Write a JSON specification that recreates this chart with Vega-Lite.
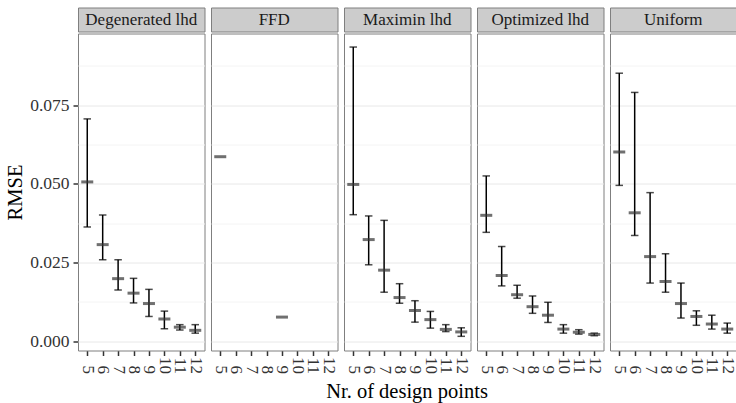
{
  "$schema": "https://vega.github.io/schema/vega-lite/v6.json",
  "padding": {"left": 5, "top": 6.5, "right": 0, "bottom": 0},
  "datasets": {
    "rmse": [
      {"design": "Degenerated lhd", "n": 5, "median": 0.0506, "lower": 0.0363, "upper": 0.0706},
      {"design": "Degenerated lhd", "n": 6, "median": 0.0307, "lower": 0.0259, "upper": 0.0401},
      {"design": "Degenerated lhd", "n": 7, "median": 0.0199, "lower": 0.0163, "upper": 0.0259},
      {"design": "Degenerated lhd", "n": 8, "median": 0.0153, "lower": 0.0122, "upper": 0.0200},
      {"design": "Degenerated lhd", "n": 9, "median": 0.0120, "lower": 0.0079, "upper": 0.0165},
      {"design": "Degenerated lhd", "n": 10, "median": 0.0071, "lower": 0.0040, "upper": 0.0096},
      {"design": "Degenerated lhd", "n": 11, "median": 0.0045, "lower": 0.0036, "upper": 0.0053},
      {"design": "Degenerated lhd", "n": 12, "median": 0.0035, "lower": 0.0026, "upper": 0.0053},
      {"design": "FFD", "n": 5, "median": 0.0586, "lower": null, "upper": null},
      {"design": "FFD", "n": 9, "median": 0.0077, "lower": null, "upper": null},
      {"design": "Maximin lhd", "n": 5, "median": 0.0498, "lower": 0.0402, "upper": 0.0934},
      {"design": "Maximin lhd", "n": 6, "median": 0.0323, "lower": 0.0243, "upper": 0.0398},
      {"design": "Maximin lhd", "n": 7, "median": 0.0226, "lower": 0.0156, "upper": 0.0384},
      {"design": "Maximin lhd", "n": 8, "median": 0.0139, "lower": 0.0121, "upper": 0.0183},
      {"design": "Maximin lhd", "n": 9, "median": 0.0098, "lower": 0.0061, "upper": 0.0129},
      {"design": "Maximin lhd", "n": 10, "median": 0.0069, "lower": 0.0042, "upper": 0.0095},
      {"design": "Maximin lhd", "n": 11, "median": 0.0038, "lower": 0.0031, "upper": 0.0053},
      {"design": "Maximin lhd", "n": 12, "median": 0.0030, "lower": 0.0016, "upper": 0.0043},
      {"design": "Optimized lhd", "n": 5, "median": 0.0400, "lower": 0.0346, "upper": 0.0525},
      {"design": "Optimized lhd", "n": 6, "median": 0.0209, "lower": 0.0176, "upper": 0.0301},
      {"design": "Optimized lhd", "n": 7, "median": 0.0148, "lower": 0.0137, "upper": 0.0178},
      {"design": "Optimized lhd", "n": 8, "median": 0.0110, "lower": 0.0089, "upper": 0.0144},
      {"design": "Optimized lhd", "n": 9, "median": 0.0083, "lower": 0.0060, "upper": 0.0124},
      {"design": "Optimized lhd", "n": 10, "median": 0.0039, "lower": 0.0026, "upper": 0.0053},
      {"design": "Optimized lhd", "n": 11, "median": 0.0029, "lower": 0.0023, "upper": 0.0037},
      {"design": "Optimized lhd", "n": 12, "median": 0.0022, "lower": 0.0018, "upper": 0.0026},
      {"design": "Uniform", "n": 5, "median": 0.0601, "lower": 0.0495, "upper": 0.0851},
      {"design": "Uniform", "n": 6, "median": 0.0408, "lower": 0.0336, "upper": 0.0790},
      {"design": "Uniform", "n": 7, "median": 0.0269, "lower": 0.0185, "upper": 0.0472},
      {"design": "Uniform", "n": 8, "median": 0.0190, "lower": 0.0156, "upper": 0.0278},
      {"design": "Uniform", "n": 9, "median": 0.0120, "lower": 0.0074, "upper": 0.0185},
      {"design": "Uniform", "n": 10, "median": 0.0079, "lower": 0.0051, "upper": 0.0097},
      {"design": "Uniform", "n": 11, "median": 0.0055, "lower": 0.0039, "upper": 0.0083},
      {"design": "Uniform", "n": 12, "median": 0.0039, "lower": 0.0026, "upper": 0.0058}
    ]
  },
  "vconcat": [
    {
      "data": {"name": "rmse"},
      "transform": [{"aggregate": [{"op": "count", "as": "cnt"}], "groupby": ["design"]}],
      "facet": {"column": {"field": "design", "type": "nominal", "title": null, "header": {"labels": false, "title": null}}},
      "spacing": 6,
      "bounds": "flush",
      "spec": {
        "width": 126.5,
        "height": 24,
        "view": {"fill": "#cccccc", "stroke": "#7f7f7f"},
        "mark": {"type": "text", "font": "Liberation Serif", "fontSize": 17, "color": "#1a1a1a", "baseline": "middle", "align": "center"},
        "encoding": {"text": {"field": "design", "type": "nominal"}}
      }
    },
    {
      "data": {"name": "rmse"},
      "facet": {"column": {"field": "design", "type": "nominal", "title": "Nr. of design points", "header": {"labels": false, "labelPadding": 0, "titleOrient": "bottom", "titleFont": "Liberation Serif", "titleFontSize": 20.5, "titleFontWeight": "normal", "titleColor": "#000000", "titlePadding": -2}}},
      "spacing": 6,
      "bounds": "flush",
      "spec": {
        "width": 126.5,
        "height": 317,
        "encoding": {
          "x": {
            "field": "n", "type": "ordinal", "title": null,
            "scale": {"type": "point", "padding": 0.6},
            "axis": {"labelAngle": 90, "labelAlign": "right", "labelBaseline": "middle", "labelPadding": 18, "labelFlush": false, "labelFontSize": 17}
          }
        },
        "layer": [
          {
            "transform": [{"filter": "datum.lower != null"}],
            "mark": {"type": "rule", "color": "#000000", "strokeWidth": 1.5},
            "encoding": {
              "y": {
                "field": "lower", "type": "quantitative", "title": "RMSE",
                "scale": {"domain": [-0.0029, 0.0977], "nice": false, "zero": false},
                "axis": {
                  "values": [0, 0.0125, 0.025, 0.0375, 0.05, 0.0625, 0.075, 0.0875],
                  "labelExpr": "abs(datum.value*40 - round(datum.value*40)) < 0.01 ? format(datum.value, '.3f') : ''",
                  "tickOpacity": {"condition": {"test": "abs(datum.value*40 - round(datum.value*40)) > 0.01", "value": 0}, "value": 1},
                  "gridColor": {"condition": {"test": "abs(datum.value*40 - round(datum.value*40)) > 0.01", "value": "#f4f4f4"}, "value": "#e8e8e8"}
                }
              },
              "y2": {"field": "upper"}
            }
          },
          {
            "transform": [{"filter": "datum.lower != null"}],
            "mark": {"type": "tick", "color": "#000000", "size": 7.5, "thickness": 1.5},
            "encoding": {"y": {"field": "lower", "type": "quantitative", "title": "RMSE"}}
          },
          {
            "transform": [{"filter": "datum.upper != null"}],
            "mark": {"type": "tick", "color": "#000000", "size": 7.5, "thickness": 1.5},
            "encoding": {"y": {"field": "upper", "type": "quantitative", "title": "RMSE"}}
          },
          {
            "mark": {"type": "tick", "color": "#333333", "size": 12, "thickness": 3},
            "encoding": {"y": {"field": "median", "type": "quantitative", "title": "RMSE"}}
          }
        ]
      }
    }
  ],
  "spacing": 0,
  "config": {
    "font": "Liberation Serif",
    "view": {"stroke": "#7f7f7f", "strokeWidth": 1},
    "axis": {
      "labelFont": "Liberation Serif", "titleFont": "Liberation Serif",
      "labelFontSize": 17.5, "titleFontSize": 20.5, "titleFontWeight": "normal",
      "labelColor": "#333333", "titleColor": "#000000",
      "domain": false, "tickColor": "#333333", "tickWidth": 1.5, "tickSize": 5,
      "gridColor": "#e8e8e8", "gridWidth": 1
    },
    "axisY": {"labelPadding": 4, "titlePadding": 4}
  }
}
